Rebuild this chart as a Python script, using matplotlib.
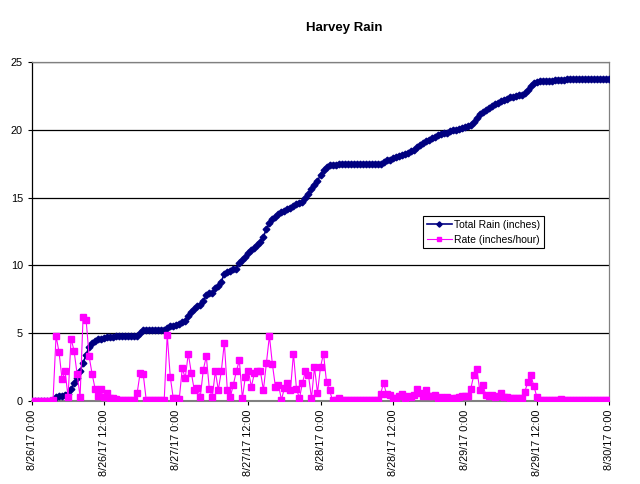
import numpy as np
import pandas as pd
import matplotlib
matplotlib.use('Agg')
import matplotlib.pyplot as plt
import matplotlib.dates as mdates

# ── DATA (30-minute steps from 8/26/17 0:00) ──
START = '2017-08-26 00:00'
STEP = '30min'

# Total Rain (inches)
total_rain = [
    0, 0, 0, 0, 0, 0, 0, 0.05, 0.3, 0.35, 0.4, 0.45,                          # 0-5.5 h
    0.5, 0.9, 1.3, 1.7, 2.2, 2.8, 3.4, 4.0, 4.3, 4.45, 4.55, 4.6,             # 6-11.5
    4.65, 4.7, 4.72, 4.75, 4.78, 4.8, 4.8, 4.8, 4.8, 4.8, 4.8, 4.8,          # 12-17.5
    5.0, 5.2, 5.2, 5.2, 5.2, 5.2, 5.2, 5.2, 5.2, 5.4, 5.5, 5.55,             # 18-23.5
    5.6, 5.65, 5.8, 5.9, 6.3, 6.6, 6.8, 7.0, 7.1, 7.4, 7.8, 7.95,            # 24-29.5
    8.0, 8.3, 8.5, 8.8, 9.4, 9.55, 9.6, 9.7, 9.75, 10.2, 10.4, 10.6,         # 30-35.5
    10.9, 11.1, 11.3, 11.5, 11.75, 12.1, 12.7, 13.1, 13.4, 13.6, 13.8, 13.95,  # 36-41.5
    14.0, 14.15, 14.25, 14.35, 14.5, 14.6, 14.7, 15.0, 15.3, 15.6, 15.9, 16.2,  # 42-47.5
    16.7, 17.0, 17.25, 17.4, 17.4, 17.4, 17.45, 17.45, 17.45, 17.45, 17.45, 17.45,  # 48-53.5
    17.45, 17.45, 17.45, 17.45, 17.45, 17.45, 17.45, 17.45, 17.5, 17.65, 17.75, 17.8,  # 54-59.5
    17.9, 18.0, 18.05, 18.15, 18.2, 18.3, 18.4, 18.5, 18.7, 18.9, 19.0, 19.15,  # 60-65.5
    19.25, 19.4, 19.5, 19.6, 19.7, 19.75, 19.8, 19.9, 19.95, 20.0, 20.05, 20.1,  # 66-71.5
    20.2, 20.25, 20.35, 20.6, 20.9, 21.15, 21.3, 21.45, 21.6, 21.75, 21.9, 22.0,  # 72-77.5
    22.1, 22.2, 22.3, 22.4, 22.45, 22.5, 22.55, 22.6, 22.75, 22.95, 23.2, 23.45,  # 78-83.5
    23.55, 23.58, 23.6, 23.61, 23.62, 23.63, 23.65, 23.67, 23.7, 23.7, 23.71, 23.71,  # 84-89.5
    23.72, 23.72, 23.72, 23.73, 23.73, 23.73, 23.74, 23.74, 23.74, 23.75, 23.75, 23.75,  # 90-95.5
    23.75,                                                                     # 96
]

# Rate (inches/hour)
rain_rate = [
    0, 0, 0, 0, 0, 0, 0, 0.05, 4.8, 3.6, 1.6, 2.2,
    0.3, 4.6, 3.7, 2.0, 0.3, 6.2, 6.0, 3.3, 2.0, 0.9, 0.4, 0.9,
    0.3, 0.6, 0.25, 0.2, 0.15, 0.1, 0.05, 0.05, 0.05, 0.05, 0.05, 0.6,
    2.1, 2.0, 0.1, 0.1, 0.1, 0.1, 0.1, 0.1, 0.1, 4.9, 1.8, 0.2,
    0.2, 0.15, 2.4, 1.7, 3.5, 2.1, 0.8, 0.95, 0.3, 2.3, 3.3, 0.9,
    0.3, 2.2, 0.8, 2.2, 4.3, 0.8, 0.3, 1.2, 2.2, 3.0, 0.2, 1.8,
    2.2, 1.05, 2.05, 2.2, 2.2, 0.8, 2.8, 4.8, 2.7, 1.05, 1.2, 0.1,
    0.95, 1.3, 0.8, 3.5, 0.9, 0.2, 1.35, 2.2, 1.9, 0.2, 2.5, 0.6,
    2.5, 3.5, 1.4, 0.8, 0.05, 0.05, 0.25, 0.05, 0.05, 0.05, 0.05, 0.05,
    0.05, 0.05, 0.05, 0.05, 0.05, 0.05, 0.05, 0.05, 0.55, 1.3, 0.5, 0.45,
    0.2, 0.2, 0.35, 0.55, 0.2, 0.4, 0.3, 0.45, 0.9, 0.6, 0.4, 0.8,
    0.35, 0.4, 0.45, 0.25, 0.3, 0.25, 0.3, 0.15, 0.2, 0.25, 0.3, 0.35,
    0.4, 0.35, 0.9, 1.9, 2.35, 0.8, 1.2, 0.45, 0.4, 0.45, 0.3, 0.35,
    0.6, 0.3, 0.3, 0.25, 0.2, 0.2, 0.25, 0.25, 0.7, 1.4, 1.9, 1.1,
    0.3, 0.05, 0.05, 0.05, 0.05, 0.05, 0.05, 0.05, 0.15, 0.05, 0.05, 0.05,
    0.05, 0.05, 0.05, 0.05, 0.05, 0.05, 0.05, 0.1, 0.05, 0.05, 0.05, 0.05,
    0.05,
]

y_ticks = [0, 5, 10, 15, 20, 25]
# ─────────────────────────────────────────────────────────────

times = pd.date_range(START, periods=len(total_rain), freq=STEP)

plt.rcParams['font.family'] = ['Liberation Sans', 'DejaVu Sans']

fig = plt.figure(figsize=(6.4, 4.84), dpi=100)
ax = fig.add_axes([32 / 640, 1 - 401 / 484, 577 / 640, 339 / 484])

ax.plot(times, total_rain, color='#000080', lw=1.2, marker='D', ms=3.4,
        mec='#000080', mfc='#000080', label='Total Rain (inches)', zorder=3)
ax.plot(times, rain_rate, color='#FF00FF', lw=0.8, marker='s', ms=3.8,
        mec='#FF00FF', mfc='#FF00FF', label='Rate (inches/hour)', zorder=4)

ax.set_ylim(0, 25)
ax.set_yticks(y_ticks)
ax.set_xlim(times[0], pd.Timestamp('2017-08-30 00:00'))
ax.xaxis.set_major_locator(mdates.HourLocator(byhour=[0, 12]))
ax.xaxis.set_major_formatter(plt.FuncFormatter(
    lambda v, p: (lambda d: f"{d.month}/{d.day}/{d:%y} {d.hour}:{d.minute:02d}")(mdates.num2date(v))))
plt.setp(ax.get_xticklabels(), rotation=90)

ax.tick_params(axis='both', labelsize=7.8, direction='out', length=3, width=0.8, colors='black')
ax.tick_params(axis='x', pad=3)

ax.grid(axis='y', color='black', lw=0.9)
ax.set_axisbelow(True)
for side in ['top', 'right']:
    ax.spines[side].set_color('#808080')
    ax.spines[side].set_linewidth(0.9)
ax.spines['bottom'].set_color('#808080')
ax.spines['bottom'].set_linewidth(1.5)
ax.spines['left'].set_color('black')
ax.spines['left'].set_linewidth(0.9)

leg = ax.legend(loc='upper left', bbox_to_anchor=(0.678, 0.546), fontsize=7.5,
                frameon=True, fancybox=False, edgecolor='black', framealpha=1,
                borderpad=0.35, handlelength=2.4, handletextpad=0.2, labelspacing=0.5,
                borderaxespad=0, markerscale=0.8)
leg.get_frame().set_linewidth(0.8)

fig.text(344 / 640, 1 - 28 / 484, 'Harvey Rain', ha='center', va='center',
         fontsize=9.5, fontweight='bold')

plt.savefig('out.png', dpi=100)
